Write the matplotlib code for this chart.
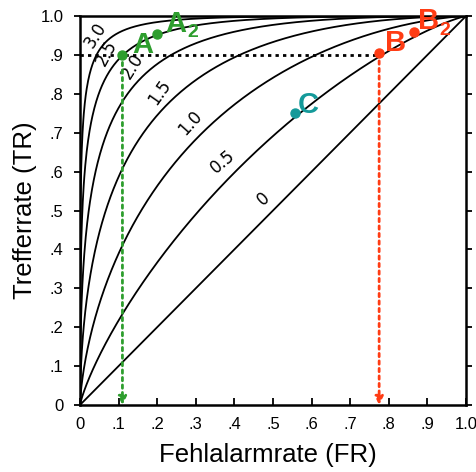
import numpy as np
import matplotlib
matplotlib.use("Agg")
import matplotlib.pyplot as plt
from statistics import NormalDist

# d'-Werte der ROC-Kurven und Beschriftungen
dprimes = [0.0, 0.5, 1.0, 1.5, 2.0, 2.5, 3.0]
dprime_labels = ["0", "0.5", "1.0", "1.5", "2.0", "2.5", "3.0"]
label_x = [0.475, 0.37, 0.285, 0.205, 0.135, 0.07, 0.039]
label_y = [0.53, 0.625, 0.725, 0.805, 0.87, 0.905, 0.952]
label_rot = [42, 40, 48, 55, 58, 62, 58]

# Punkte (FR, TR)
punkt_namen = ["A", "A2", "B", "B2", "C"]
punkt_fr = [0.11, 0.20, 0.775, 0.865, 0.557]
punkt_tr = [0.90, 0.955, 0.904, 0.96, 0.751]

tick_werte = [0, .1, .2, .3, .4, .5, .6, .7, .8, .9, 1.0]
tick_texte = ["0", ".1", ".2", ".3", ".4", ".5", ".6", ".7", ".8", ".9", "1.0"]

GRUEN = "#2e9e2e"
ROT = "#ff3c14"
TUERKIS = "#149a9a"

nd = NormalDist()
fr = np.concatenate([np.linspace(1e-6, 0.01, 200), np.linspace(0.01, 1 - 1e-6, 800)])

fig = plt.figure(figsize=(4.76, 4.72), dpi=100)
ax = fig.add_axes([0.168, 0.142, 0.811, 0.824])

for d in dprimes:
    tr = [nd.cdf(nd.inv_cdf(f) + d) for f in fr]
    ax.plot(np.r_[0, fr, 1], np.r_[0, tr, 1], color="black", lw=1.3, solid_capstyle="butt")

for txt, x, y, r in zip(dprime_labels, label_x, label_y, label_rot):
    ax.text(x, y, txt, rotation=r, fontsize=12, ha="center", va="center",
            family="DejaVu Sans")

# gepunktete Hilfslinien
ax.plot([0, punkt_fr[2]], [0.9, 0.9], color="black", lw=2, ls=(0, (1.2, 1.5)))
ax.annotate("", xy=(punkt_fr[0], 0.0), xytext=(punkt_fr[0], punkt_tr[0]),
            arrowprops=dict(arrowstyle="-|>", color=GRUEN, lw=2, ls=(0, (1.2, 1.5)),
                            mutation_scale=12, shrinkA=0, shrinkB=0))
ax.annotate("", xy=(punkt_fr[2], 0.0), xytext=(punkt_fr[2], punkt_tr[2]),
            arrowprops=dict(arrowstyle="-|>", color=ROT, lw=2, ls=(0, (1.2, 1.5)),
                            mutation_scale=12, shrinkA=0, shrinkB=0))

farben = [GRUEN, GRUEN, ROT, ROT, TUERKIS]
for x, y, c in zip(punkt_fr, punkt_tr, farben):
    ax.plot(x, y, "o", color=c, ms=6.5, zorder=5, clip_on=False)

fett = dict(fontsize=21, fontweight="bold", family="Liberation Sans", va="center", ha="left")
klein = dict(fontsize=14, fontweight="bold", family="Liberation Sans", va="center", ha="left")
ax.text(0.135, 0.925, "A", color=GRUEN, **fett)
ax.text(0.22, 0.98, "A", color=GRUEN, **fett)
ax.text(0.277, 0.958, "2", color=GRUEN, **klein)
ax.text(0.79, 0.93, "B", color=ROT, **fett)
ax.text(0.875, 0.988, "B", color=ROT, **fett)
ax.text(0.93, 0.962, "2", color=ROT, **klein)
ax.text(0.565, 0.772, "C", color=TUERKIS, **fett)

ax.set_xlim(0, 1)
ax.set_ylim(0, 1)
ax.set_xticks(tick_werte)
ax.set_xticklabels(tick_texte)
ax.set_yticks(tick_werte)
ax.set_yticklabels(tick_texte)
ax.tick_params(axis="x", direction="in", length=5, width=1.3, labelsize=12, pad=9)
ax.tick_params(axis="y", direction="out", length=4, width=1.3, labelsize=12, pad=8, right=True)
for lbl in ax.get_xticklabels() + ax.get_yticklabels():
    lbl.set_family("Liberation Sans")
for s in ax.spines.values():
    s.set_linewidth(1.8)

ax.set_xlabel("Fehlalarmrate (FR)", fontsize=18.5, family="Liberation Sans")
ax.set_ylabel("Trefferrate (TR)", fontsize=18.5, family="Liberation Sans")
ax.xaxis.set_label_coords(0.487, -0.128)
ax.yaxis.set_label_coords(-0.142, 0.5)
ax.xaxis.label.set_va("center")
ax.yaxis.label.set_va("center")

fig.savefig("out.png", dpi=100)
